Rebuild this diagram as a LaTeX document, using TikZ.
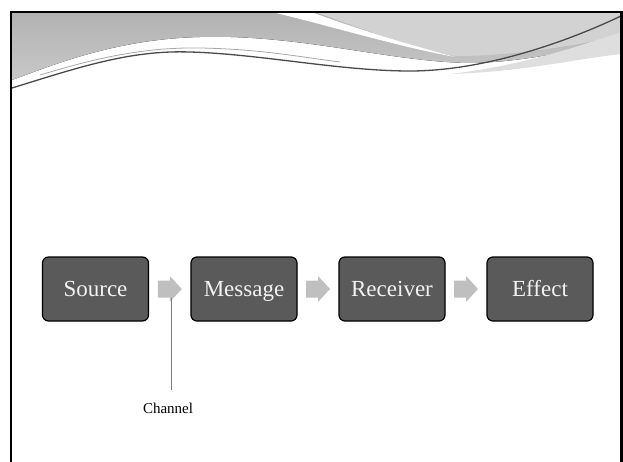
\documentclass[tikz,border=0pt]{standalone}
\usepackage{fontspec}
\setmainfont{Liberation Serif}
\usetikzlibrary{calc}
\definecolor{boxfill}{HTML}{5A5A5A}
\definecolor{boxtext}{HTML}{F2F2F2}
\definecolor{arrowfill}{HTML}{BFBFBF}
\definecolor{chanline}{HTML}{808080}
\definecolor{waveA}{HTML}{B2B2B2}
\definecolor{waveB}{HTML}{C8C8C8}
\definecolor{waveC}{HTML}{D2D2D2}
\definecolor{waveline}{HTML}{4A4A4A}
\tikzset{
  stagebox/.style={draw=black, line width=1.2pt, fill=boxfill, rounded corners=6pt,
    minimum width=106pt, minimum height=64pt, inner sep=0pt,
    text height=18pt, text depth=4pt,
    text=boxtext, font=\fontsize{23}{26}\selectfont},
  flowarrow/.style={fill=arrowfill, draw=none},
  chanlabel/.style={font=\fontsize{15}{17}\selectfont, inner sep=0pt, text=black},
}
\begin{document}
\begin{tikzpicture}[x=1pt, y=-1pt]
\useasboundingbox (0,0) rectangle (623,462);
\begin{scope}
\clip (0,0) rectangle (623,462);

% header wave: shaded band
\fill[top color=waveA, bottom color=waveB]
  (12,13) -- (621,13) -- (621,40)
  .. controls (580,48) and (530,62) .. (470,63)
  .. controls (390,62) and (300,34) .. (200,37)
  .. controls (120,39) and (60,62) .. (12,80) -- cycle;
% lighter part on the right
\fill[waveC]
  (318,13) -- (621,13) -- (621,36)
  .. controls (580,44) and (520,56) .. (455,56)
  .. controls (420,50) and (370,32) .. cycle;
% white streak
\fill[white]
  (276,13) -- (314,13)
  .. controls (360,30) and (410,45) .. (455,57)
  .. controls (400,47) and (330,26) .. cycle;
% soft shadow below the line on the right
\fill[waveB!60!white]
  (621,32) -- (621,54)
  .. controls (570,60) and (520,72) .. (450,74)
  .. controls (520,66) and (580,46) .. cycle;
% wave lines
\draw[gray!70, line width=0.8pt]
  (40,75) .. controls (90,60) and (140,47) .. (200,48)
  .. controls (260,49) and (300,57) .. (340,62);
\draw[waveline, line width=1.3pt]
  (12,88) .. controls (80,67) and (130,50) .. (190,52)
  .. controls (260,54) and (340,71) .. (410,71)
  .. controls (480,71) and (560,45) .. (621,16);

% slide frame
\draw[black, line width=2.2pt] (11,12) rectangle (621.5,480);
\end{scope}

% stages
\node[stagebox] (src) at (95.5,289) {Source};
\node[stagebox] (msg) at (244,289) {Message};
\node[stagebox] (rcv) at (392,289) {Receiver};
\node[stagebox] (eff) at (540,289) {Effect};

% block arrows between stages
\foreach \a/\b/\n in {src/msg/a1, msg/rcv/a2, rcv/eff/a3}{
  \coordinate (\n) at ($(\a.east)!0.5!(\b.west)$);
  \fill[flowarrow] ($(\n)+(-12,-8.5)$) -- ($(\n)+(0,-8.5)$) -- ($(\n)+(0,-13)$)
    -- ($(\n)+(12,0)$) -- ($(\n)+(0,13)$) -- ($(\n)+(0,8.5)$)
    -- ($(\n)+(-12,8.5)$) -- cycle;
}

% channel callout
\node[chanlabel, anchor=base] (ch) at (168,413) {Channel};
\coordinate (chtop) at ($(a1)+(1.5,9)$);
\coordinate (chbot) at (chtop |- 0,390);
\draw[chanline, line width=1pt] (chtop) -- (chbot);
\end{tikzpicture}
\end{document}
